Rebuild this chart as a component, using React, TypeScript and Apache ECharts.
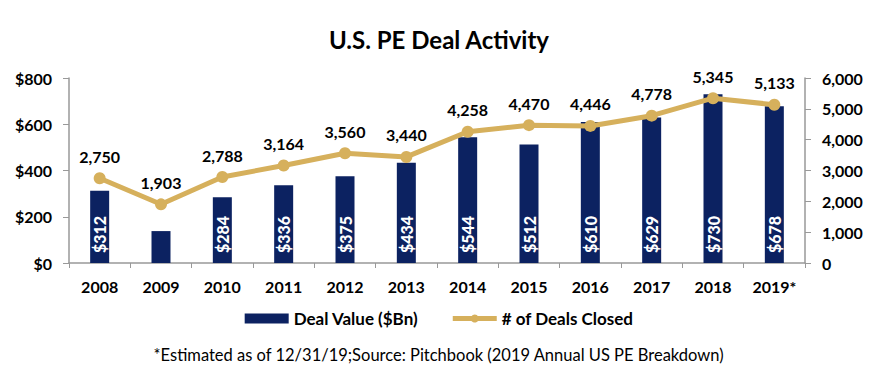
import React, { useEffect, useRef } from "react";
import * as echarts from "echarts";

const years = ["2008", "2009", "2010", "2011", "2012", "2013", "2014", "2015", "2016", "2017", "2018", "2019*"];
const dealValue = [312, 138, 284, 336, 375, 434, 544, 512, 610, 629, 730, 678];
const dealCount = [2750, 1903, 2788, 3164, 3560, 3440, 4258, 4470, 4446, 4778, 5345, 5133];
const showValueLabel = [true, false, true, true, true, true, true, true, true, true, true, true];

const FONT = "Lato, 'Open Sans', sans-serif";
const NAVY = "#0C2261";
const GOLD = "#D6B05C";

export default function App() {
  const ref = useRef<HTMLDivElement>(null);
  useEffect(() => {
    if (!ref.current) return;
    const chart = echarts.init(ref.current, undefined, { renderer: "svg" });
    chart.setOption({
      animation: false,
      textStyle: { fontFamily: FONT },
      title: {
        text: "U.S. PE Deal Activity",
        left: "center",
        top: 22,
        textStyle: { fontFamily: FONT, fontSize: 24, fontWeight: "bold", color: "#000" },
      },
      legend: {
        top: 305,
        left: "center",
        itemWidth: 44,
        itemHeight: 10,
        itemGap: 32,
        textStyle: { fontFamily: FONT, fontSize: 17, fontWeight: "bold", color: "#000" },
        data: [
          { name: "Deal Value ($Bn)", icon: "rect" },
          { name: "# of Deals Closed", lineStyle: { width: 5, color: GOLD } },
        ],
      },
      graphic: [
        {
          type: "text",
          left: "center",
          top: 346,
          style: {
            text: "*Estimated as of 12/31/19;Source: Pitchbook (2019 Annual US PE Breakdown)",
            fontFamily: FONT,
            fontSize: 16.5,
            fill: "#000",
          },
        },
      ],
      grid: { left: 69, right: 73, top: 78, bottom: 117, containLabel: false },
      xAxis: {
        type: "category",
        data: years,
        axisLine: { lineStyle: { color: "#999", width: 1.5 } },
        axisTick: { show: true, length: 5, lineStyle: { color: "#999" } },
        axisLabel: { fontFamily: FONT, fontSize: 16, fontWeight: "bold", color: "#000", margin: 15 },
      },
      yAxis: [
        {
          type: "value",
          min: 0,
          max: 800,
          interval: 200,
          position: "left",
          splitLine: { show: false },
          axisLine: { show: true, lineStyle: { color: "#999", width: 1.5 } },
          axisTick: { show: true, length: 6, lineStyle: { color: "#999" } },
          axisLabel: {
            fontFamily: FONT,
            fontSize: 16,
            fontWeight: "bold",
            color: "#000",
            margin: 17,
            formatter: (v: number) => "$" + v,
          },
        },
        {
          type: "value",
          min: 0,
          max: 6000,
          interval: 1000,
          position: "right",
          splitLine: { show: false },
          axisLine: { show: true, lineStyle: { color: "#999", width: 1.5 } },
          axisTick: { show: true, length: 6, lineStyle: { color: "#999" } },
          axisLabel: {
            fontFamily: FONT,
            fontSize: 16,
            fontWeight: "bold",
            color: "#000",
            margin: 17,
            formatter: (v: number) => v.toLocaleString("en-US"),
          },
        },
      ],
      series: [
        {
          name: "Deal Value ($Bn)",
          type: "bar",
          yAxisIndex: 0,
          barWidth: 19,
          itemStyle: { color: NAVY },
          data: dealValue.map((v, i) => ({
            value: v,
            label: { show: showValueLabel[i] },
          })),
          label: {
            position: "insideBottom",
            rotate: 90,
            align: "left",
            verticalAlign: "middle",
            distance: 10,
            color: "#fff",
            fontFamily: FONT,
            fontSize: 16,
            fontWeight: 900,
            formatter: (p: any) => "$" + p.value,
          },
        },
        {
          name: "# of Deals Closed",
          type: "line",
          yAxisIndex: 1,
          data: dealCount,
          lineStyle: { color: GOLD, width: 5 },
          itemStyle: { color: GOLD },
          symbol: "circle",
          symbolSize: 12,
          z: 3,
          label: {
            show: true,
            position: "top",
            distance: 8,
            color: "#000",
            fontFamily: FONT,
            fontSize: 16,
            fontWeight: "bold",
            formatter: (p: any) => p.value.toLocaleString("en-US"),
          },
        },
      ],
    });
    return () => chart.dispose();
  }, []);
  return (
    <div
      ref={ref}
      style={{ position: "absolute", left: 0, top: 0, width: 878, height: 380 }}
    />
  );
}
